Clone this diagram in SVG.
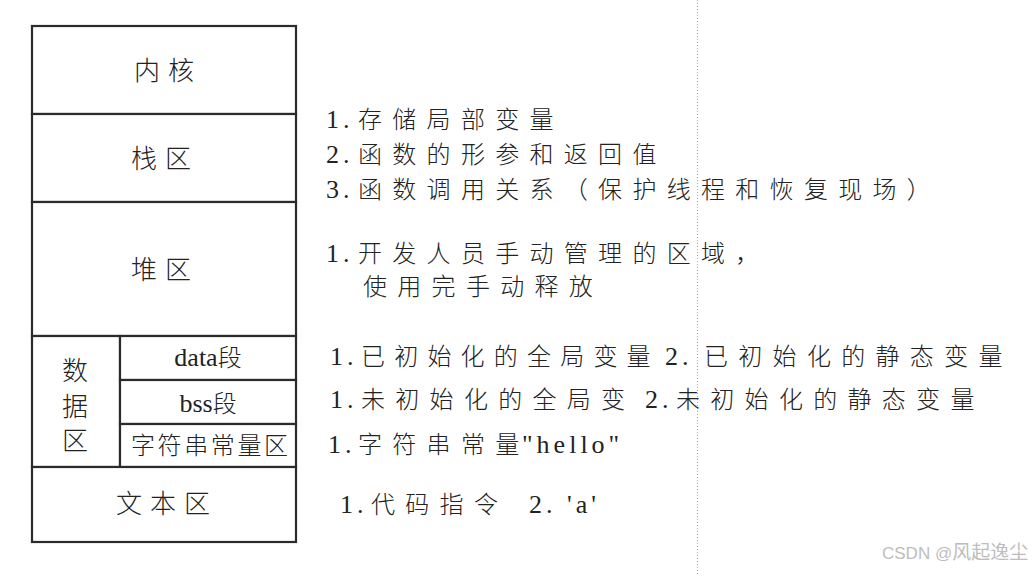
<svg xmlns="http://www.w3.org/2000/svg" width="1036" height="576" viewBox="0 0 1036 576">
<style>
.box{fill:#fff;stroke:#2b2b2b;stroke-width:2.2}
.t{font-family:"Liberation Serif","Noto Sans CJK SC",serif;fill:#222;font-weight:300}
.lbl{font-size:26px;letter-spacing:8px}
.sub{font-size:24px}
.n{font-family:"Liberation Serif",serif;font-size:26px;letter-spacing:4px;font-weight:400}
.c{font-family:"Noto Sans CJK SC",sans-serif;font-size:24px;letter-spacing:10.3px}
.wm{font-family:"Liberation Sans","Noto Sans CJK SC",sans-serif;font-size:17px;fill:#bdbdbd}
</style>
<rect width="1036" height="576" fill="#fff"/>
<g id="guide"><line x1="697.5" y1="0" x2="697.5" y2="576" stroke="#a8a8a8" stroke-width="1" stroke-dasharray="1,2"/></g>

<g id="kernel"><rect class="box" x="32" y="26" width="264" height="88"/><text class="t lbl" x="134" y="80">内核</text></g>
<g id="stack"><rect class="box" x="32" y="114" width="264" height="88"/><text class="t lbl" x="131" y="168">栈区</text></g>
<g id="heap"><rect class="box" x="32" y="202" width="264" height="134"/><text class="t lbl" x="131" y="279">堆区</text></g>
<g id="data-region"><rect class="box" x="32" y="336" width="88" height="131"/>
<text class="t lbl" x="62" y="380">数</text><text class="t lbl" x="62" y="416">据</text><text class="t lbl" x="62" y="450">区</text></g>
<g id="data-seg"><rect class="box" x="120" y="336" width="176" height="44"/><text class="t sub" x="208" y="366" text-anchor="middle"><tspan font-size="26" font-family="Liberation Serif, serif" font-weight="400">data</tspan>段</text></g>
<g id="bss-seg"><rect class="box" x="120" y="380" width="176" height="44"/><text class="t sub" x="208" y="412" text-anchor="middle"><tspan font-size="26" font-family="Liberation Serif, serif" font-weight="400">bss</tspan>段</text></g>
<g id="str-const"><rect class="box" x="120" y="424" width="176" height="43"/><text class="t sub" x="131" y="454" style="letter-spacing:2.6px">字符串常量区</text></g>
<g id="text-seg"><rect class="box" x="32" y="467" width="264" height="75"/><text class="t lbl" x="116" y="513">文本区</text></g>

<g id="notes">
<text class="t" y="128"><tspan class="n" x="326">1.</tspan><tspan class="c" x="358">存储局部变量</tspan></text>
<text class="t" y="163"><tspan class="n" x="326">2.</tspan><tspan class="c" x="358">函数的形参和返回值</tspan></text>
<text class="t" y="198"><tspan class="n" x="326">3.</tspan><tspan class="c" x="358">函数调用关系（保护线程和恢复现场）</tspan></text>
<text class="t" y="262"><tspan class="n" x="326">1.</tspan><tspan class="c" x="358">开发人员手动管理的区域，</tspan></text>
<text class="t" y="295"><tspan class="c" x="363">使用完手动释放</tspan></text>
<text class="t" y="365"><tspan class="n" x="330">1.</tspan><tspan class="c" x="361" style="letter-spacing:9.2px">已初始化的全局变量</tspan><tspan class="n" x="665">2.</tspan><tspan class="c" x="704">已初始化的静态变量</tspan></text>
<text class="t" y="408"><tspan class="n" x="330">1.</tspan><tspan class="c" x="361">未初始化的全局变</tspan><tspan class="n" x="645">2.</tspan><tspan class="c" x="676">未初始化的静态变量</tspan></text>
<text class="t" y="453"><tspan class="n" x="328">1.</tspan><tspan class="c" x="358">字符串常量</tspan><tspan class="n" x="522">"hello"</tspan></text>
<text class="t" y="513"><tspan class="n" x="340">1.</tspan><tspan class="c" x="371">代码指令</tspan><tspan class="n" x="529">2. 'a'</tspan></text>
</g>

<text class="wm" x="882" y="559">CSDN @<tspan font-size="19">风起逸尘</tspan></text>
</svg>
